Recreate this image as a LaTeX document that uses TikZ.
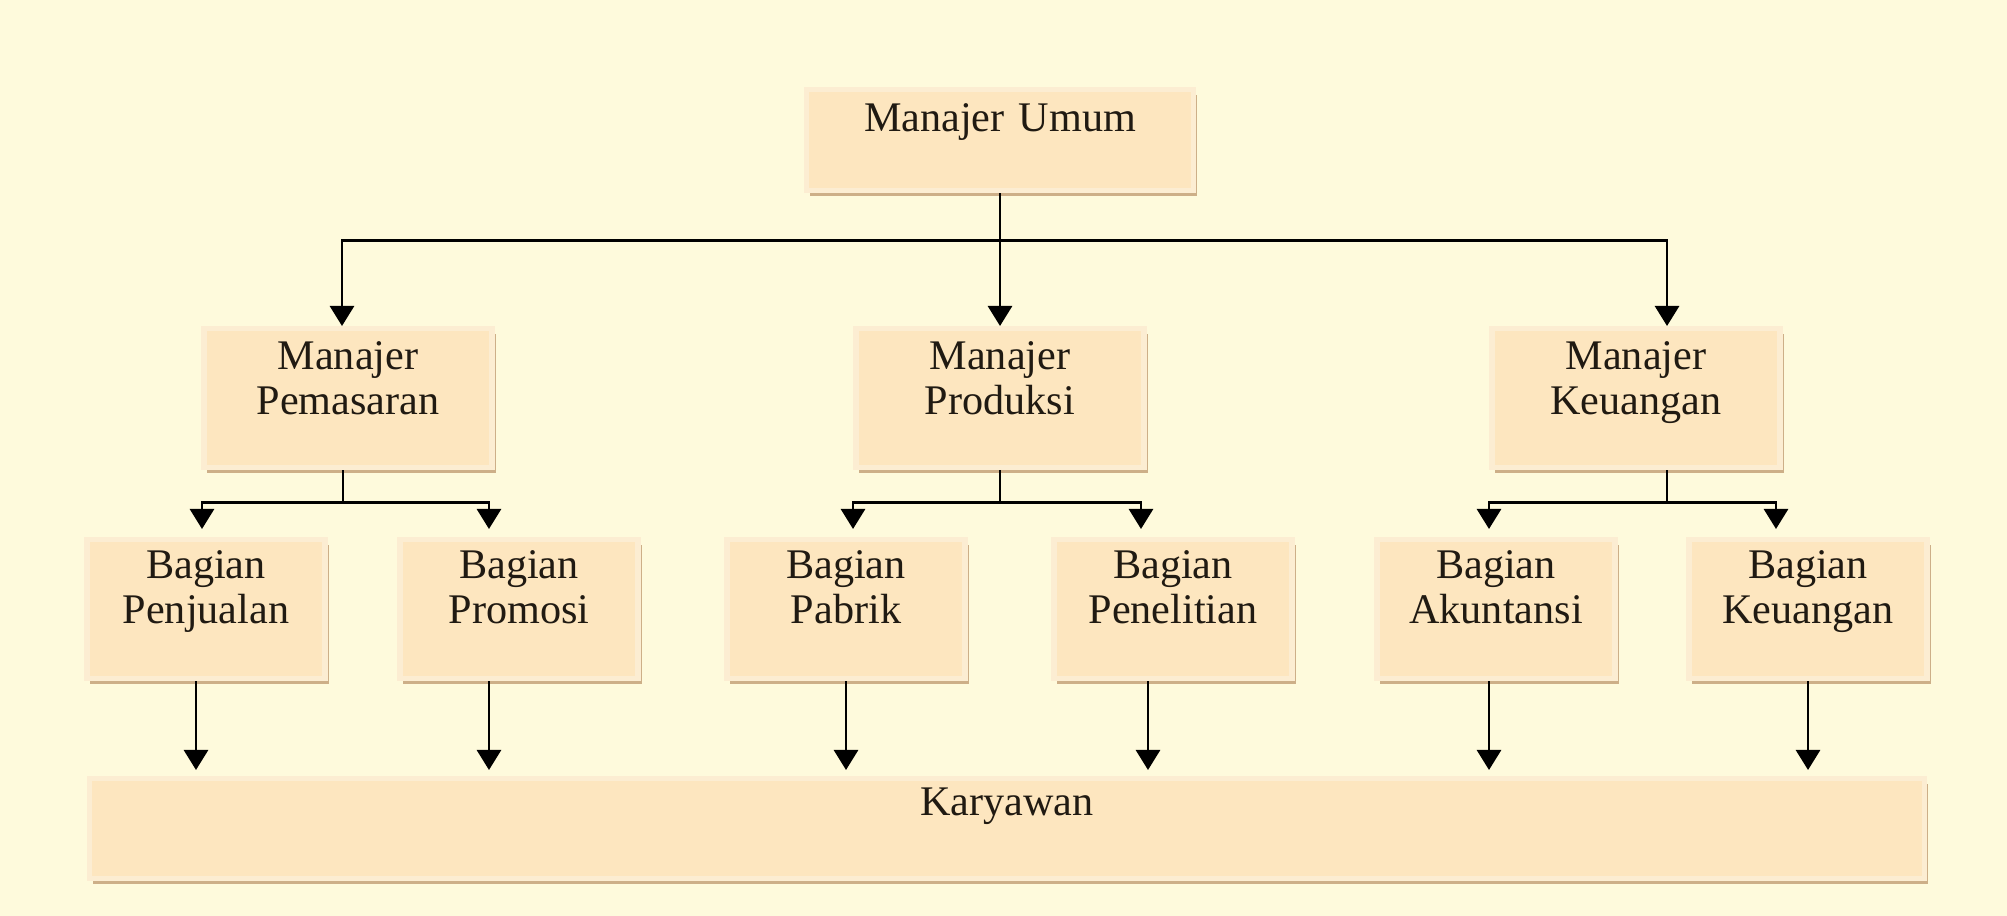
\documentclass[tikz,border=0pt]{standalone}
\usepackage{fontspec}
\setmainfont{Liberation Serif}
\usetikzlibrary{arrows.meta,shadows}
\definecolor{bg}{HTML}{FEFADC}
\definecolor{boxfill}{HTML}{FDE6BF}
\definecolor{boxedge}{HTML}{FCEDD2}
\definecolor{boxshadow}{HTML}{CDAF88}
\definecolor{ink}{HTML}{201A12}
\begin{document}
\begin{tikzpicture}[
      x=0.01cm, y=-0.01cm,
      line width = 0.8pt,
      box/.style={fill=boxfill, draw=boxedge, line width=1.5pt, inner sep=0pt,
        anchor=north, align=center, text=ink, font=\fontsize{12}{12.7}\selectfont,
        drop shadow={shadow xshift=0.035cm, shadow yshift=-0.05cm, fill=boxshadow, opacity=1}},
      U/.style={box, text width=3.87cm, text height=0.42cm, text depth=0.59cm},
      M/.style={box, text width=2.88cm, text height=0.41cm, text depth=0.98cm},
      B/.style={box, text width=2.38cm, text height=0.39cm, text depth=1.00cm},
      K/.style={box, text width=18.34cm, text height=0.37cm, text depth=0.63cm},
      A/.style={-{Triangle[width=0.24cm,length=0.2cm]}, line width=0.8pt}]
      \path[use as bounding box, fill=bg] (0,0) rectangle (2007,916);

      \node[U] (mu) at (1000,87) {Manajer Umum};

      \node[M] (mp) at (348,326) {Manajer\\Pemasaran};
      \node[M] (mr) at (1000,326) {Manajer\\Produksi};
      \node[M] (mk) at (1636,326) {Manajer\\Keuangan};

      \node[B] (bj) at (206,537) {Bagian\\Penjualan};
      \node[B] (bo) at (519,537) {Bagian\\Promosi};
      \node[B] (bb) at (846,537) {Bagian\\Pabrik};
      \node[B] (bl) at (1173,537) {Bagian\\Penelitian};
      \node[B] (ba) at (1496,537) {Bagian\\Akuntansi};
      \node[B] (bk) at (1808,537) {Bagian\\Keuangan};

      \node[K] (ka) at (1007,776) {Karyawan};

      \draw (mu.south) -- ++(0,47) coordinate (jU);
      \draw[A] (jU) -| ([xshift=-0.06cm]mp.north);
      \draw[A] (jU) -- (mr.north);
      \draw[A] (jU) -| ([xshift=0.31cm]mk.north);

      \draw ([xshift=-0.05cm]mp.south) -- ++(0,32) coordinate (jP);
      \draw[A, shorten >=0.08cm] (jP) -| ([xshift=-0.04cm]bj.north);
      \draw[A, shorten >=0.08cm] (jP) -| ([xshift=-0.30cm]bo.north);

      \draw (mr.south) -- ++(0,32) coordinate (jR);
      \draw[A, shorten >=0.08cm] (jR) -| ([xshift=0.07cm]bb.north);
      \draw[A, shorten >=0.08cm] (jR) -| ([xshift=-0.32cm]bl.north);

      \draw ([xshift=0.31cm]mk.south) -- ++(0,32) coordinate (jK);
      \draw[A, shorten >=0.08cm] (jK) -| ([xshift=-0.07cm]ba.north);
      \draw[A, shorten >=0.08cm] (jK) -| ([xshift=-0.32cm]bk.north);

      \draw[A, shorten >=0.06cm] ([xshift=-0.10cm]bj.south) coordinate (d1) -- (d1 |- ka.north);
      \draw[A, shorten >=0.06cm] ([xshift=-0.30cm]bo.south) coordinate (d2) -- (d2 |- ka.north);
      \draw[A, shorten >=0.06cm] (bb.south) coordinate (d3) -- (d3 |- ka.north);
      \draw[A, shorten >=0.06cm] ([xshift=-0.25cm]bl.south) coordinate (d4) -- (d4 |- ka.north);
      \draw[A, shorten >=0.06cm] ([xshift=-0.07cm]ba.south) coordinate (d5) -- (d5 |- ka.north);
      \draw[A, shorten >=0.06cm] (bk.south) coordinate (d6) -- (d6 |- ka.north);
\end{tikzpicture}
\end{document}
